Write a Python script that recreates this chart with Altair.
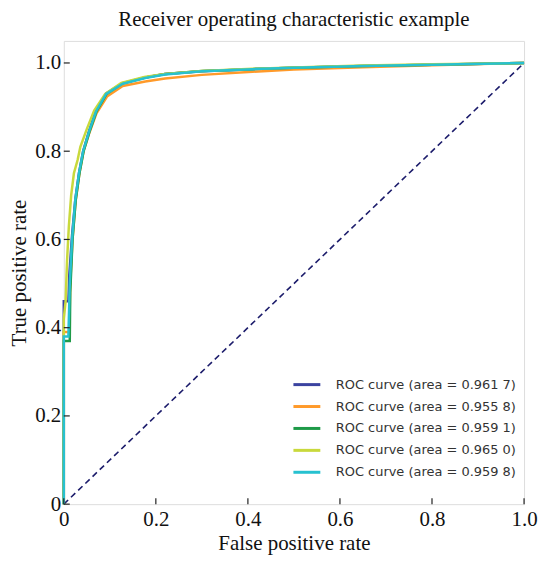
import altair as alt
import pandas as pd

series_names = [
    "ROC curve (area = 0.961 7)",
    "ROC curve (area = 0.955 8)",
    "ROC curve (area = 0.959 1)",
    "ROC curve (area = 0.965 0)",
    "ROC curve (area = 0.959 8)",
]
series_colors = ["#3b43a0", "#ff9a2a", "#1e9a48", "#c9d93c", "#27c1d0"]

fpr_blue = [0, 0, 0.01, 0.012, 0.018, 0.025, 0.033, 0.042, 0.055, 0.07, 0.092, 0.128, 0.177, 0.22, 0.3, 0.41, 0.5, 0.65, 0.8, 1.0]
tpr_blue = [0, 0.46, 0.46, 0.52, 0.61, 0.69, 0.75, 0.8, 0.846, 0.891, 0.931, 0.954, 0.967, 0.975, 0.981, 0.986, 0.989, 0.993, 0.996, 1.0]

fpr_orange = [0, 0, 0.012, 0.014, 0.019, 0.026, 0.034, 0.043, 0.056, 0.071, 0.094, 0.128, 0.177, 0.22, 0.3, 0.41, 0.5, 0.65, 0.8, 1.0]
tpr_orange = [0, 0.39, 0.39, 0.5, 0.6, 0.69, 0.75, 0.8, 0.843, 0.886, 0.924, 0.948, 0.958, 0.965, 0.973, 0.98, 0.985, 0.99, 0.995, 1.0]

fpr_green = [0, 0, 0.013, 0.014, 0.019, 0.026, 0.034, 0.043, 0.056, 0.071, 0.093, 0.128, 0.177, 0.22, 0.3, 0.41, 0.5, 0.65, 0.8, 1.0]
tpr_green = [0, 0.37, 0.37, 0.48, 0.6, 0.69, 0.75, 0.8, 0.845, 0.89, 0.93, 0.954, 0.967, 0.975, 0.982, 0.986, 0.989, 0.993, 0.996, 1.0]

fpr_yellow = [0, 0, 0.004, 0.007, 0.011, 0.016, 0.022, 0.03, 0.036, 0.05, 0.066, 0.09, 0.125, 0.175, 0.22, 0.3, 0.41, 0.5, 0.65, 0.8, 1.0]
tpr_yellow = [0, 0.42, 0.46, 0.55, 0.63, 0.7, 0.75, 0.78, 0.81, 0.85, 0.892, 0.93, 0.955, 0.968, 0.975, 0.982, 0.987, 0.99, 0.994, 0.997, 1.0]

fpr_teal = [0, 0, 0.01, 0.013, 0.018, 0.025, 0.033, 0.042, 0.055, 0.07, 0.092, 0.128, 0.177, 0.22, 0.3, 0.41, 0.5, 0.65, 0.8, 1.0]
tpr_teal = [0, 0.38, 0.38, 0.5, 0.6, 0.69, 0.75, 0.8, 0.845, 0.89, 0.93, 0.953, 0.966, 0.974, 0.981, 0.986, 0.989, 0.993, 0.996, 1.0]

diag_x = [0, 1]
diag_y = [0, 1]

tick_values = [0, 0.2, 0.4, 0.6, 0.8, 1.0]

all_fpr = [fpr_blue, fpr_orange, fpr_green, fpr_yellow, fpr_teal]
all_tpr = [tpr_blue, tpr_orange, tpr_green, tpr_yellow, tpr_teal]

rows = []
for k, (name, xs, ys) in enumerate(zip(series_names, all_fpr, all_tpr)):
    for i, (a, b) in enumerate(zip(xs, ys)):
        rows.append({"series": name, "k": k, "i": i, "fpr": a, "tpr": b})
df = pd.DataFrame(rows)

W, H = 462, 465
serif = "Liberation Serif"

xscale = alt.Scale(domain=[0, 1], nice=False, zero=False)
yscale = alt.Scale(domain=[0, 1.05], nice=False, zero=False)

label_expr = "datum.value == 0 ? '0' : format(datum.value, '.1f')"

xaxis = alt.Axis(values=tick_values, labelExpr=label_expr, grid=False, domain=False,
                 tickSize=0, labelFont=serif, labelFontSize=21, labelColor="#111",
                 labelPadding=4, title="False positive rate", titleFont=serif,
                 titleFontSize=21, titleFontWeight="normal", titleColor="#111",
                 titlePadding=4, labelFlush=False)
yaxis = alt.Axis(values=tick_values, labelExpr=label_expr, grid=False, domain=False,
                 tickSize=0, labelFont=serif, labelFontSize=21, labelColor="#111",
                 labelPadding=3, title="True positive rate", titleFont=serif,
                 titleFontSize=21, titleFontWeight="normal", titleColor="#111",
                 titlePadding=5, labelFlush=False)

lines = alt.Chart(df).mark_line(strokeWidth=2.5, interpolate="linear").encode(
    x=alt.X("fpr:Q", scale=xscale, axis=xaxis),
    y=alt.Y("tpr:Q", scale=yscale, axis=yaxis),
    color=alt.Color("series:N",
                    scale=alt.Scale(domain=series_names, range=series_colors),
                    sort=series_names,
                    legend=alt.Legend(title=None, orient="none", legendX=229, legendY=330,
                                      symbolType="stroke", symbolSize=729,
                                      symbolStrokeWidth=3, labelFont="DejaVu Sans",
                                      labelFontSize=13, labelColor="#333",
                                      labelLimit=400, rowPadding=-2, labelOffset=14,
                                      padding=0)),
    detail="k:N",
    order=alt.Order("i:Q"),
)

diag = alt.Chart(pd.DataFrame({"x": diag_x, "y": diag_y})).mark_line(
    color="#1c1c6b", strokeDash=[6, 4], strokeWidth=1.6
).encode(x=alt.X("x:Q", scale=xscale), y=alt.Y("y:Q", scale=yscale))

ticks_df = pd.DataFrame({"v": tick_values})
xticks = alt.Chart(ticks_df).mark_rule(color="#222", strokeWidth=1.2).encode(
    x=alt.X("v:Q", scale=xscale), y=alt.value(H), y2=alt.value(H - 6))
yticks = alt.Chart(ticks_df).mark_rule(color="#222", strokeWidth=1.2).encode(
    y=alt.Y("v:Q", scale=yscale), x=alt.value(0), x2=alt.value(6))

chart = alt.layer(diag, lines, xticks, yticks).properties(
    width=W, height=H,
    padding={"left": 0, "right": 0, "top": 0, "bottom": 0},
    title=alt.TitleParams("Receiver operating characteristic example", font=serif,
                          fontSize=21, fontWeight="normal", color="#111", offset=11),
).configure_view(stroke="#333", strokeWidth=1.2).configure(background="white")

chart.save("out.html", embed_options={"renderer": "svg", "actions": False})
